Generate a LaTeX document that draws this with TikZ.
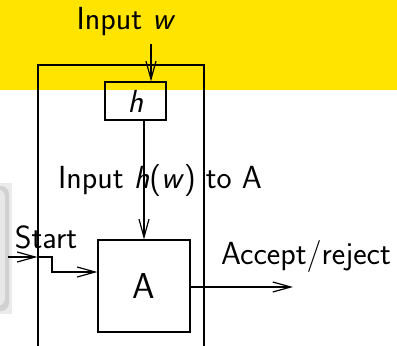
\documentclass[tikz,border=0pt]{standalone}
\usetikzlibrary{positioning,arrows.meta}
\definecolor{bandyellow}{RGB}{255,228,0}
\begin{document}
\begin{tikzpicture}[
  x=0.5pt,
  y=-0.5pt,
  line width=0.6pt,
  >={Straight Barb[length=9pt,width=5pt,line width=0.6pt]},
  font=\sffamily\fontsize{16}{19}\selectfont,
  box/.style={draw=black,inner sep=0pt,fill=none},
  lbl/.style={inner sep=0pt}
]
  \useasboundingbox (0,0) rectangle (397,345);
  \clip (0,0) rectangle (397,345);

  % Yellow band and grey block edge.
  \fill[bandyellow] (0,0) rectangle (397,90);
  \fill[black!8] (-30,183) rectangle (12,314);
  \fill[black!18,rounded corners=4pt] (-30,186) rectangle (9,311);
  \fill[black!9,rounded corners=4pt] (-30,189) rectangle (5,306);

  % Boxes.
  \node[box,minimum width=83pt,minimum height=150pt] (outer) at (121,215) {};
  \node[box,minimum width=30.5pt,minimum height=19pt] (h) at (135.5,101) {\textsl{h}};
  \node[box,minimum width=46pt,minimum height=46pt,font=\sffamily\fontsize{18}{21}\selectfont] (A) at (144,286) {A};

  % Labels.
  \node[lbl] (inw) at (126,22) {Input \textsl{w}};
  \node[lbl] (inhw) at (160,181) {Input \textsl{h}(\textsl{w}) to A};
  \node[lbl] (start) at (46,237) {Start};
  \node[lbl] (acc) at (306,256) {Accept/reject};

  \coordinate (hin) at (151,44);
  \coordinate (sin) at (8,257);
  \coordinate (aout) at (293,287);

  % Connectors.
  \draw[->] (hin) -- (hin |- h.north);
  \draw[->] (A.north |- h.south) -- (A.north);
  \draw[->] (sin) -- (sin -| outer.west);
  \draw[->] (sin -| outer.west) -- (52,257) -- (52,272) -- (A.west |- 0,272);
  \draw[->] (A.east |- aout) -- (aout);
\end{tikzpicture}
\end{document}
